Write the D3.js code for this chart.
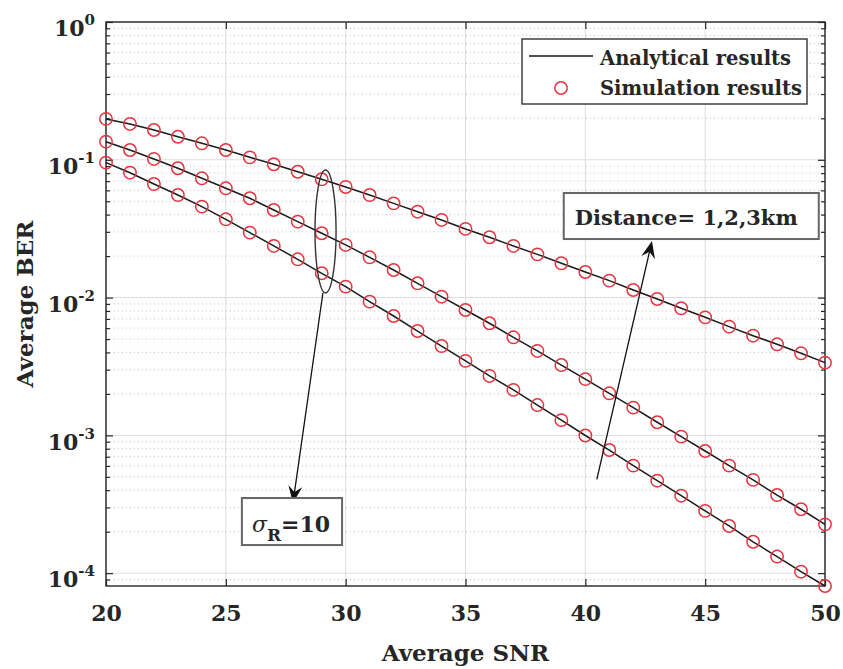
<!DOCTYPE html>
<html>
<head>
<meta charset="utf-8">
<script src="https://cdn.jsdelivr.net/npm/d3@7"></script>
<style>
  body { margin: 0; background: #fff; }
  text { font-family: "DejaVu Serif", serif; font-weight: bold; fill: #262626; }
</style>
</head>
<body>
<div id="chart"></div>
<script>
// chart size
const WIDTH = 843;
const HEIGHT = 669;
const MARGIN = { top: 22, right: 18, bottom: 83, left: 106 };

// data
const snr = [20, 21, 22, 23, 24, 25, 26, 27, 28, 29, 30, 31, 32, 33, 34, 35,
             36, 37, 38, 39, 40, 41, 42, 43, 44, 45, 46, 47, 48, 49, 50];

const ber3km = [0.198, 0.182, 0.1645, 0.147, 0.1317, 0.1178, 0.1042, 0.0928, 0.0819, 0.0722,
                0.0635, 0.0555, 0.0483, 0.0420, 0.0366, 0.0315, 0.0274, 0.0237, 0.0206, 0.01774,
                0.01533, 0.01327, 0.01135, 0.00977, 0.00836, 0.00719, 0.00615, 0.00529, 0.00458,
                0.00394, 0.00337];

const ber2km = [0.1353, 0.1178, 0.1014, 0.0868, 0.0734, 0.0621, 0.0526, 0.0432, 0.0356, 0.0293,
                0.0241, 0.0196, 0.01586, 0.01270, 0.01015, 0.00813, 0.00651, 0.00515, 0.00410,
                0.00324, 0.00256, 0.00202, 0.00159, 0.001245, 0.000979, 0.000770, 0.000603,
                0.000475, 0.000369, 0.000291, 0.000226];

const ber1km = [0.0953, 0.0806, 0.0667, 0.0555, 0.0457, 0.0370, 0.0296, 0.0237, 0.01896, 0.01501,
                0.0120, 0.00934, 0.00735, 0.00572, 0.00445, 0.00347, 0.00270, 0.00214, 0.00166,
                0.00129, 0.000998, 0.000783, 0.000603, 0.000469, 0.000365, 0.000283, 0.000220,
                0.000169, 0.000132, 0.0001025, 0.0000807];

const xTicks = [20, 25, 30, 35, 40, 45, 50];
const yTicks = [1e-4, 1e-3, 1e-2, 1e-1, 1];
const yTickExp = ["-4", "-3", "-2", "-1", "0"];

const legendLabels = ["Analytical results", "Simulation results"];

const RED = "#e8323c";
const AXIS = "#262626";

const svg = d3.select("#chart").append("svg")
    .attr("width", WIDTH)
    .attr("height", HEIGHT);

const x = d3.scaleLinear()
    .domain([20, 50])
    .range([MARGIN.left, WIDTH - MARGIN.right]);

const y = d3.scaleLog()
    .domain([d3.min(ber1km), 1])
    .range([HEIGHT - MARGIN.bottom, MARGIN.top]);

const x0 = x.range()[0], x1 = x.range()[1];
const y0 = y.range()[0], y1 = y.range()[1];

// minor values for the log axis (2..9 of each decade)
const yMinor = y.ticks().filter(v => {
    const l = Math.log10(v);
    return Math.abs(l - Math.round(l)) > 1e-6;
}).filter(v => v >= y.domain()[0] && v <= 1);

/**
 * grid
 */
const grid = svg.append("g");

grid.selectAll(".minorY")
    .data(yMinor)
    .enter()
    .append("line")
    .attr("x1", x0).attr("x2", x1)
    .attr("y1", d => y(d)).attr("y2", d => y(d))
    .attr("stroke", "#b4b4b4")
    .attr("stroke-width", 0.8)
    .attr("stroke-dasharray", "1,3");

grid.selectAll(".majorY")
    .data(yTicks)
    .enter()
    .append("line")
    .attr("x1", x0).attr("x2", x1)
    .attr("y1", d => y(d)).attr("y2", d => y(d))
    .attr("stroke", "#dcdcdc");

grid.selectAll(".majorX")
    .data(xTicks)
    .enter()
    .append("line")
    .attr("x1", d => x(d)).attr("x2", d => x(d))
    .attr("y1", y0).attr("y2", y1)
    .attr("stroke", "#dcdcdc");

/**
 * axes (inward ticks on all four sides)
 */
function styleAxis(g) {
    g.select(".domain").remove();
    g.selectAll(".tick line").attr("stroke", AXIS).attr("stroke-width", 1.2);
}

svg.append("g")
    .attr("transform", `translate(0,${y0})`)
    .call(d3.axisBottom(x).tickValues(xTicks).tickSize(-7).tickPadding(14))
    .call(styleAxis)
    .call(g => g.selectAll("text")
        .attr("font-size", 22)
        .attr("dy", "0.95em")
        .attr("fill", AXIS)
        .style("font-family", "DejaVu Serif")
        .style("font-weight", "bold"));

svg.append("g")
    .attr("transform", `translate(0,${y1})`)
    .call(d3.axisTop(x).tickValues(xTicks).tickSize(-7).tickFormat(""))
    .call(styleAxis);

const yAxisG = svg.append("g")
    .attr("transform", `translate(${x0},0)`)
    .call(d3.axisLeft(y).tickValues(yTicks).tickSize(-7).tickPadding(11).tickFormat(""))
    .call(styleAxis);

yAxisG.selectAll(".tick text")
    .attr("font-size", 22)
    .attr("dy", "0.62em")
    .style("text-anchor", "end")
    .each(function(d, i) {
        const t = d3.select(this);
        t.append("tspan").text("10");
        t.append("tspan").attr("font-size", 15).attr("dy", -11).text(yTickExp[i]);
    });

svg.append("g")
    .attr("transform", `translate(${x0},0)`)
    .call(d3.axisLeft(y).tickValues(yMinor).tickSize(-4).tickFormat(""))
    .call(styleAxis);

svg.append("g")
    .attr("transform", `translate(${x1},0)`)
    .call(d3.axisRight(y).tickValues(yTicks).tickSize(-7).tickFormat(""))
    .call(styleAxis);

svg.append("g")
    .attr("transform", `translate(${x1},0)`)
    .call(d3.axisRight(y).tickValues(yMinor).tickSize(-4).tickFormat(""))
    .call(styleAxis);

svg.append("rect")
    .attr("x", x0).attr("y", y1)
    .attr("width", x1 - x0).attr("height", y0 - y1)
    .attr("fill", "none")
    .attr("stroke", AXIS)
    .attr("stroke-width", 1.4);

// axis titles
svg.append("text")
    .attr("x", (x0 + x1) / 2)
    .attr("y", 661)
    .attr("text-anchor", "middle")
    .attr("font-size", 23)
    .text("Average SNR");

svg.append("text")
    .attr("transform", `translate(33,${(y0 + y1) / 2}) rotate(-90)`)
    .attr("text-anchor", "middle")
    .attr("font-size", 23)
    .text("Average BER");

/**
 * curves
 */
const series = [ber3km, ber2km, ber1km];

const line = d3.line()
    .x((d, i) => x(snr[i]))
    .y(d => y(d));

const plot = svg.append("g");

series.forEach(s => {
    plot.append("path")
        .datum(s)
        .attr("d", line)
        .attr("fill", "none")
        .attr("stroke", "#1a1a1a")
        .attr("stroke-width", 1.5);

    plot.selectAll(null)
        .data(s)
        .enter()
        .append("circle")
        .attr("cx", (d, i) => x(snr[i]))
        .attr("cy", d => y(d))
        .attr("r", 6.2)
        .attr("fill", "none")
        .attr("stroke", RED)
        .attr("stroke-width", 1.5);
});

/**
 * annotations (placed in data units)
 */
function arrow(fromX, fromY, toX, toY) {
    const ax = x(fromX), ay = y(fromY), bx = x(toX), by = y(toY);
    const ang = Math.atan2(by - ay, bx - ax);
    const len = 17, half = 7, notch = 11;
    const ux = Math.cos(ang), uy = Math.sin(ang);
    const px = -uy, py = ux;
    svg.append("line")
        .attr("x1", ax).attr("y1", ay)
        .attr("x2", bx - ux * notch).attr("y2", by - uy * notch)
        .attr("stroke", "#111")
        .attr("stroke-width", 1.3);
    const pts = [
        [bx, by],
        [bx - ux * len + px * half, by - uy * len + py * half],
        [bx - ux * notch, by - uy * notch],
        [bx - ux * len - px * half, by - uy * len - py * half]
    ];
    svg.append("path")
        .attr("d", "M" + pts.map(p => p.join(",")).join("L") + "Z")
        .attr("fill", "#111");
}

// ellipse around the three curves at SNR 29
const ellX = [28.72, 29.6], ellY = [0.0108, 0.0843];
svg.append("ellipse")
    .attr("cx", (x(ellX[0]) + x(ellX[1])) / 2)
    .attr("cy", (y(ellY[0]) + y(ellY[1])) / 2)
    .attr("rx", (x(ellX[1]) - x(ellX[0])) / 2)
    .attr("ry", (y(ellY[0]) - y(ellY[1])) / 2)
    .attr("fill", "none")
    .attr("stroke", "#333")
    .attr("stroke-width", 1.4);

arrow(29.05, 0.0108, 27.8, 3.23e-4);
arrow(40.48, 4.8e-4, 42.78, 0.0257);

// distance box
const dBoxX = [39.1, 49.74], dBoxY = [0.0574, 0.0266];
svg.append("rect")
    .attr("x", x(dBoxX[0])).attr("y", y(dBoxY[0]))
    .attr("width", x(dBoxX[1]) - x(dBoxX[0]))
    .attr("height", y(dBoxY[1]) - y(dBoxY[0]))
    .attr("fill", "#fff")
    .attr("stroke", "#666")
    .attr("stroke-width", 2);
svg.append("text")
    .attr("x", x(dBoxX[0]) + 11)
    .attr("y", y(dBoxY[0]) + 32)
    .attr("font-size", 21)
    .attr("fill", "#111")
    .text("Distance= 1,2,3km");

// sigma box
const sBoxX = [25.67, 29.85], sBoxY = [3.51e-4, 1.60e-4];
svg.append("rect")
    .attr("x", x(sBoxX[0])).attr("y", y(sBoxY[0]))
    .attr("width", x(sBoxX[1]) - x(sBoxX[0]))
    .attr("height", y(sBoxY[1]) - y(sBoxY[0]))
    .attr("fill", "#fff")
    .attr("stroke", "#666")
    .attr("stroke-width", 2);
const sig = svg.append("text")
    .attr("x", x(sBoxX[0]) + 10)
    .attr("y", y(sBoxY[0]) + 34)
    .attr("font-size", 22)
    .attr("fill", "#111");
sig.append("tspan").style("font-style", "italic").style("font-weight", "normal").text("σ");
sig.append("tspan").attr("font-size", 17).attr("dy", 9).text("R");
sig.append("tspan").attr("dy", -9).text("=10");

/**
 * legend
 */
const legend = svg.append("g").attr("transform", "translate(522,39)");
legend.append("rect")
    .attr("width", 285).attr("height", 65)
    .attr("fill", "#fff")
    .attr("stroke", "#333")
    .attr("stroke-width", 1.4);
legend.append("line")
    .attr("x1", 7).attr("x2", 71)
    .attr("y1", 17).attr("y2", 17)
    .attr("stroke", "#1a1a1a")
    .attr("stroke-width", 1.5);
legend.append("circle")
    .attr("cx", 39).attr("cy", 49).attr("r", 6.2)
    .attr("fill", "none")
    .attr("stroke", RED)
    .attr("stroke-width", 1.5);
legend.selectAll("text")
    .data(legendLabels)
    .enter()
    .append("text")
    .attr("x", 78)
    .attr("y", (d, i) => 26 + i * 30)
    .attr("font-size", 19.5)
    .attr("fill", "#111")
    .text(d => d);
</script>
</body>
</html>
